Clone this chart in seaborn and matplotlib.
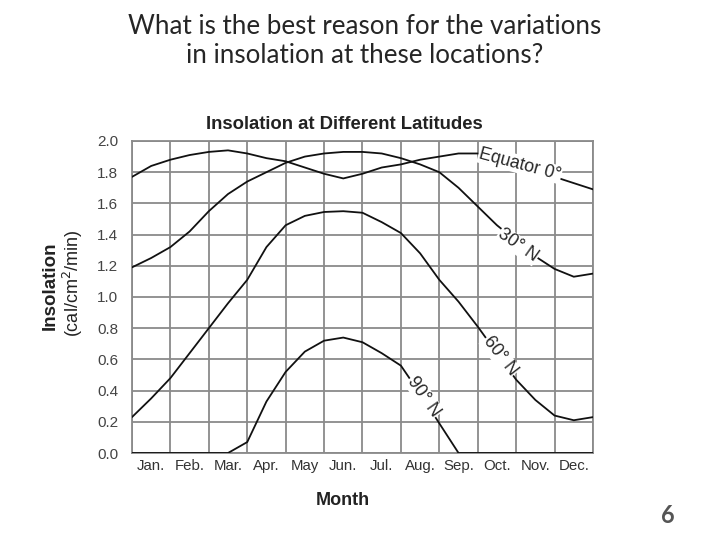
import numpy as np
import pandas as pd
import seaborn as sns
import matplotlib.pyplot as plt

# values read at every half month (0 = start of Jan, 12 = end of Dec)
months = ['Jan.', 'Feb.', 'Mar.', 'Apr.', 'May', 'Jun.', 'Jul.', 'Aug.', 'Sep.', 'Oct.', 'Nov.', 'Dec.']
pos = [0, 0.5, 1, 1.5, 2, 2.5, 3, 3.5, 4, 4.5, 5, 5.5, 6,
       6.5, 7, 7.5, 8, 8.5, 9, 9.5, 10, 10.5, 11, 11.5, 12]
equator = [1.77, 1.84, 1.88, 1.91, 1.93, 1.94, 1.92, 1.89, 1.87, 1.83, 1.79, 1.76, 1.79,
           1.83, 1.85, 1.88, 1.90, 1.92, 1.92, 1.88, 1.84, 1.80, 1.77, 1.73, 1.69]
lat30 = [1.19, 1.25, 1.32, 1.42, 1.55, 1.66, 1.74, 1.80, 1.86, 1.90, 1.92, 1.93, 1.93,
         1.92, 1.89, 1.85, 1.80, 1.70, 1.58, 1.46, 1.36, 1.26, 1.18, 1.13, 1.15]
lat60 = [0.23, 0.35, 0.48, 0.64, 0.80, 0.96, 1.11, 1.32, 1.46, 1.52, 1.545, 1.55, 1.54,
         1.48, 1.41, 1.28, 1.11, 0.97, 0.81, 0.64, 0.47, 0.34, 0.24, 0.21, 0.23]
lat90 = [0, 0, 0, 0, 0, 0, 0.07, 0.33, 0.52, 0.65, 0.72, 0.74, 0.71,
         0.64, 0.56, 0.38, 0.19, 0.0, 0, 0, 0, 0, 0, 0, 0]

df = pd.concat([
    pd.DataFrame({'month': pos, 'insolation': v, 'lat': name})
    for name, v in [('Equator 0°', equator), ('30° N', lat30), ('60° N', lat60), ('90° N', lat90)]
])

sns.set_style('white')
plt.rcParams['font.family'] = ['Liberation Sans', 'DejaVu Sans']

fig = plt.figure(figsize=(7.2, 5.4), dpi=100)
ax = fig.add_axes([0.1833, 0.1611, 0.6403, 0.5778])

sns.lineplot(data=df, x='month', y='insolation', hue='lat',
             palette=['#111111'] * 4, linewidth=1.3, legend=False, ax=ax, zorder=3)

grid = '#8a8a8a'
ax.set_xlim(0, 12)
ax.set_ylim(0, 2.0)
ax.set_xticks(np.arange(0, 13))
ax.set_xticklabels([])
ax.set_xticks(np.arange(0.5, 12), minor=True)
ax.set_xticklabels(months, minor=True)
ax.set_yticks(np.arange(0, 2.01, 0.2))
ax.set_yticklabels(['%.1f' % v for v in np.arange(0, 2.01, 0.2)])
ax.set_yticks(np.arange(0.1, 2.0, 0.2), minor=True)
ax.tick_params(axis='x', which='major', length=15, width=1.3, color=grid, direction='out')
ax.tick_params(axis='x', which='minor', length=0, pad=4, labelsize=10.8, labelcolor='#333333')
ax.tick_params(axis='y', which='major', length=7, width=1.3, color=grid, pad=3,
               labelsize=11, labelcolor='#444444')
ax.tick_params(axis='y', which='minor', length=4, width=1.0, color=grid)
ax.grid(True, which='major', color=grid, linewidth=1.3)
for s in ax.spines.values():
    s.set_color(grid)
    s.set_linewidth(1.3)

ax.set_xlabel('')
ax.set_ylabel('')

box = dict(facecolor='white', edgecolor='none', pad=0.5)
ax.text(10.1, 1.85, 'Equator 0°', rotation=-15, fontsize=12.8, ha='center', va='center',
        bbox=box, zorder=4, rotation_mode='anchor')
ax.text(10.05, 1.33, '30° N', rotation=-35, fontsize=12.8, ha='center', va='center',
        bbox=box, zorder=4, rotation_mode='anchor')
ax.text(9.58, 0.62, '60° N', rotation=-52, fontsize=12.8, ha='center', va='center',
        bbox=box, zorder=4, rotation_mode='anchor')
ax.text(7.6, 0.36, '90° N', rotation=-55, fontsize=12.8, ha='center', va='center',
        bbox=box, zorder=4, rotation_mode='anchor')

fig.text(0.478, 0.77, 'Insolation at Different Latitudes', fontsize=13.3,
         fontweight='bold', ha='center', va='center', color='#222222')
fig.text(0.476, 0.074, 'Month', fontsize=13, fontweight='bold',
         ha='center', va='center', color='#222222')
fig.text(0.070, 0.47, 'Insolation', rotation=90, fontsize=13.5, fontweight='bold',
         ha='center', va='center', color='#222222')
fig.text(0.102, 0.475, '(cal/cm$^2$/min)', rotation=90, fontsize=13,
         ha='center', va='center', color='#222222')

fig.text(0.507, 0.924, 'What is the best reason for the variations\nin insolation at these locations?',
         fontsize=18.7, ha='center', va='center', family=['Lato', 'DejaVu Sans'],
         linespacing=1.23)
fig.text(0.928, 0.045, '6', fontsize=17, fontweight='bold', color='#555555',
         ha='center', va='center', family=['Lato', 'DejaVu Sans'])

fig.savefig('out.png', dpi=100)
